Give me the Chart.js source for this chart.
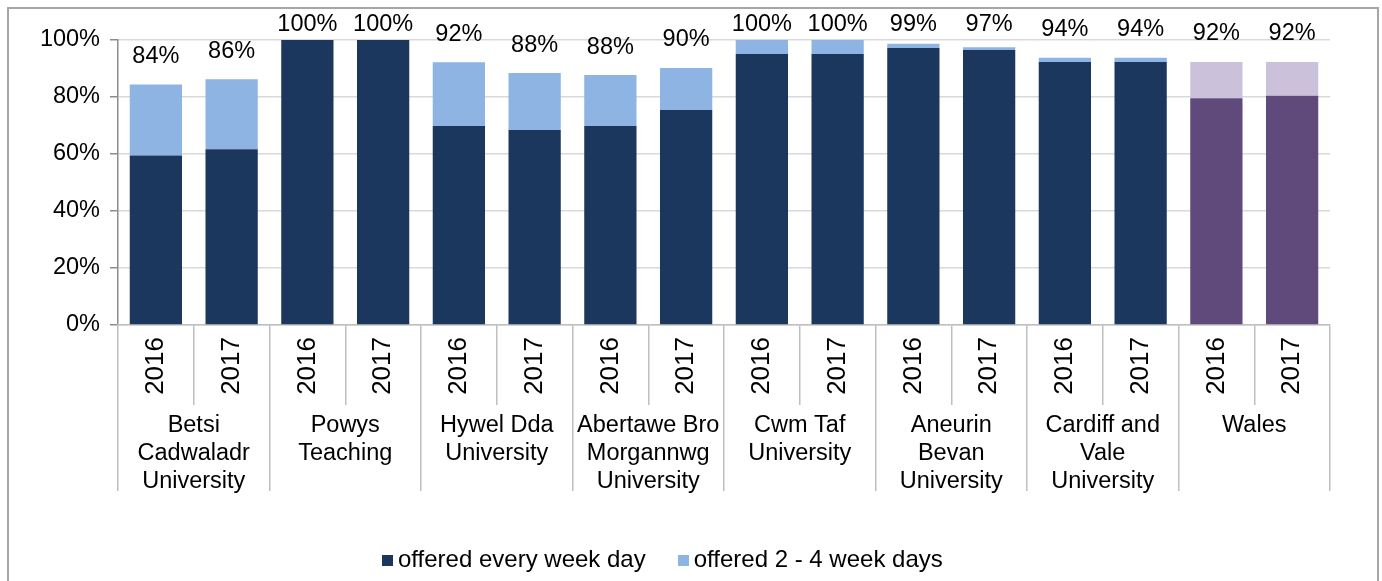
<!DOCTYPE html>
<html lang="en">
<head>
<meta charset="UTF-8">
<title>Offered every week day, by health board</title>
<script src="https://cdn.jsdelivr.net/npm/chart.js"></script>
<style>
    body { margin: 0; background: #fff; font-family: "Liberation Sans", Arial, sans-serif; }
    .frame { position: absolute; left: 7px; top: 7px; width: 1368px; height: 600px; border: 2px solid #a6a6a6; }
    .wrap { position: absolute; left: 0; top: 0; width: 1382px; height: 581px; }
    .legend { position: absolute; top: 545px; left: 382px; font-size: 24px; white-space: nowrap; color: #000; }
    .legend span.box { display: inline-block; width: 11px; height: 11px; margin-right: 5px; vertical-align: 1px; }
    .legend span.item { margin-right: 32px; }
</style>
</head>
<body>
<div class="frame"></div>
<div class="wrap"><canvas id="chart" width="1382" height="581"></canvas></div>
<div class="legend" id="legend"></div>

<script>
    // categories
    const groups = [
        ['Betsi', 'Cadwaladr', 'University'],
        ['Powys', 'Teaching'],
        ['Hywel Dda', 'University'],
        ['Abertawe Bro', 'Morgannwg', 'University'],
        ['Cwm Taf', 'University'],
        ['Aneurin', 'Bevan', 'University'],
        ['Cardiff and', 'Vale', 'University'],
        ['Wales']
    ];
    const years = ['2016', '2017', '2016', '2017', '2016', '2017', '2016', '2017',
                   '2016', '2017', '2016', '2017', '2016', '2017', '2016', '2017'];

    // series values (%)
    const everyDay = [59.5, 61.7, 100, 100, 69.8, 68.4, 69.8, 75.4, 95.1, 95.1, 97.2, 96.5, 92.3, 92.3, 79.6, 80.4];
    const twoToFour = [24.9, 24.5, 0, 0, 22.4, 20.0, 17.9, 14.8, 4.9, 4.9, 1.5, 1.0, 1.5, 1.5, 12.7, 11.9];
    const totalLabels = [84, 86, 100, 100, 92, 88, 88, 90, 100, 100, 99, 97, 94, 94, 92, 92];

    const yTicks = [0, 20, 40, 60, 80, 100];

    const seriesNames = ['offered every week day', 'offered 2 - 4 week days'];

    const darkBlue = '#1b375e', lightBlue = '#8eb4e3';
    const darkPurple = '#604a7b', lightPurple = '#ccc1da';
    const isWales = i => i >= 14;

    const FONT = '"Liberation Sans", Arial, sans-serif';

    // draws the total % above every stack
    const totalsPlugin = {
        id: 'totals',
        afterDatasetsDraw(chart) {
            const ctx = chart.ctx;
            const xs = chart.scales.x, ys = chart.scales.y;
            ctx.save();
            ctx.font = '23.5px ' + FONT;
            ctx.fillStyle = '#000';
            ctx.textAlign = 'center';
            ctx.textBaseline = 'middle';
            totalLabels.forEach((t, i) => {
                const sum = everyDay[i] + twoToFour[i];
                const px = xs.getPixelForValue(i);
                const py = Math.max(ys.getPixelForValue(sum) - 28, 25);
                ctx.fillText(t + '%', px, py);
            });
            ctx.restore();
        }
    };

    const ctx = document.getElementById('chart').getContext('2d');
    new Chart(ctx, {
        type: 'bar',
        data: {
            labels: years,
            datasets: [{
                label: seriesNames[0],
                data: everyDay,
                backgroundColor: years.map((y, i) => isWales(i) ? darkPurple : darkBlue),
                barPercentage: 0.69,
                categoryPercentage: 1
            }, {
                label: seriesNames[1],
                data: twoToFour,
                backgroundColor: years.map((y, i) => isWales(i) ? lightPurple : lightBlue),
                barPercentage: 0.69,
                categoryPercentage: 1
            }]
        },
        options: {
            responsive: false,
            animation: false,
            layout: { padding: { left: 38, right: 52, top: 40, bottom: 88 } },
            plugins: {
                legend: { display: false },
                tooltip: { enabled: false }
            },
            scales: {
                y: {
                    stacked: true,
                    min: 0,
                    max: 100,
                    afterBuildTicks: s => { s.ticks = yTicks.map(v => ({ value: v })); },
                    afterFit: s => { s.width = 80; },
                    ticks: {
                        color: '#000',
                        padding: 10,
                        font: { family: FONT, size: 23.5 },
                        callback: v => v + '%'
                    },
                    grid: { color: '#d9d9d9', lineWidth: 1.5, tickColor: '#8c8c8c', tickLength: 8 },
                    border: { color: '#8c8c8c', width: 1.5 }
                },
                x: {
                    stacked: true,
                    weight: 0,
                    afterFit: s => { s.height = 80; },
                    ticks: {
                        color: '#000',
                        autoSkip: false,
                        minRotation: 90,
                        maxRotation: 90,
                        padding: -68,
                        font: { family: FONT, size: 26 }
                    },
                    grid: { drawOnChartArea: false, offset: true, tickLength: 80, color: '#bfbfbf', lineWidth: 1.5 },
                    border: { color: '#bfbfbf', width: 1.5 }
                },
                x2: {
                    type: 'category',
                    position: 'bottom',
                    weight: 1,
                    offset: true,
                    labels: groups,
                    afterFit: s => { s.height = 88; },
                    ticks: {
                        color: '#000',
                        autoSkip: false,
                        maxRotation: 0,
                        padding: -80,
                        font: { family: FONT, size: 23.5, lineHeight: 1.2 }
                    },
                    grid: { drawOnChartArea: false, offset: true, tickLength: 86, color: '#bfbfbf', lineWidth: 1.5 },
                    border: { display: false }
                }
            }
        },
        plugins: [totalsPlugin]
    });

    // legend
    const legendColors = [darkBlue, lightBlue];
    document.getElementById('legend').innerHTML = seriesNames.map((n, i) =>
        `<span class="item"><span class="box" style="background:${legendColors[i]}"></span>${n}</span>`
    ).join('');
</script>
</body>
</html>
